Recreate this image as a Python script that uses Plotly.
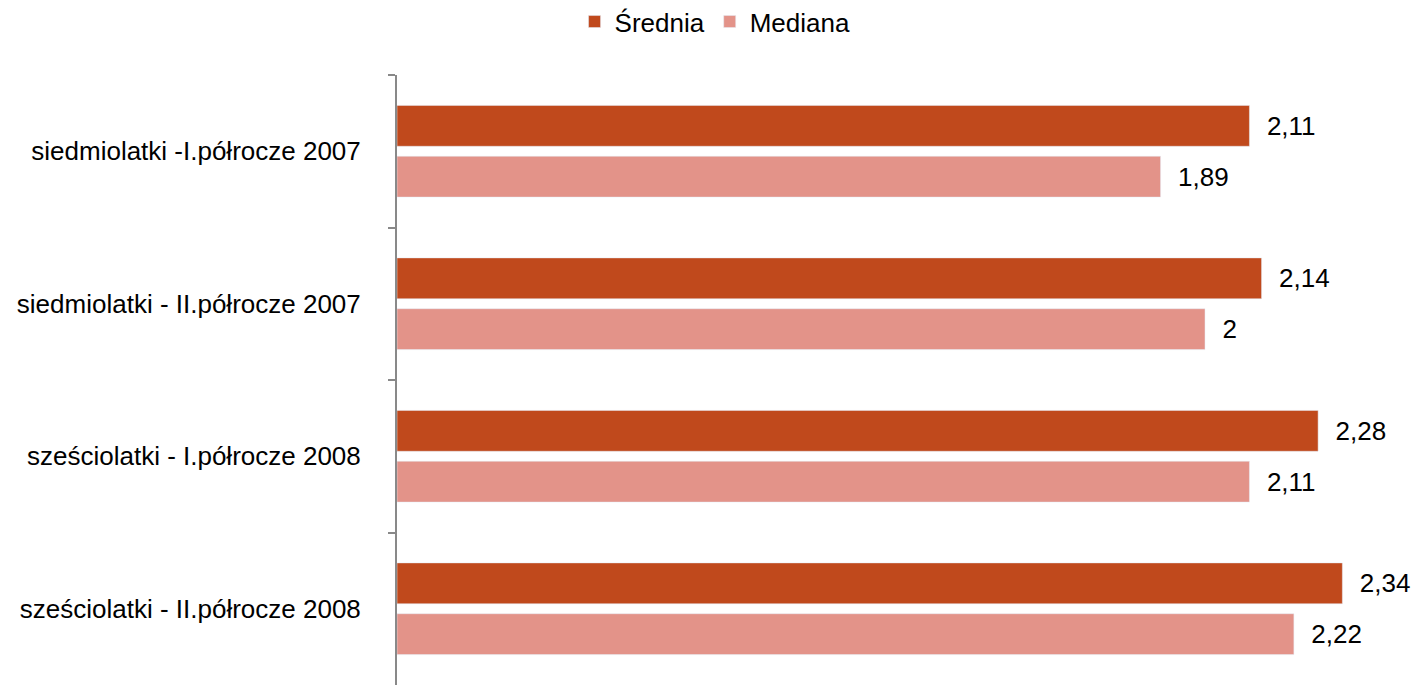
import plotly.graph_objects as go

categories = [
    "siedmiolatki -I.półrocze 2007",
    "siedmiolatki - II.półrocze 2007",
    "sześciolatki - I.półrocze 2008",
    "sześciolatki - II.półrocze 2008",
]
srednia = [2.11, 2.14, 2.28, 2.34]
mediana = [1.89, 2.0, 2.11, 2.22]

def fmt(v):
    return "\u00a0\u00a0" + f"{v:g}".replace(".", ",")

FONT = "Liberation Sans, Arial, sans-serif"
FS = 26

fig = go.Figure()
fig.add_trace(go.Bar(
    name="Średnia", y=categories, x=srednia, orientation="h",
    marker=dict(color="#C0491C"),
    text=[fmt(v) for v in srednia], textposition="outside",
    outsidetextfont=dict(size=FS, color="black", family=FONT),
    constraintext="none", cliponaxis=False,
))
fig.add_trace(go.Bar(
    name="Mediana", y=categories, x=mediana, orientation="h",
    marker=dict(color="#E39389"),
    text=[fmt(v) for v in mediana], textposition="outside",
    outsidetextfont=dict(size=FS, color="black", family=FONT),
    constraintext="none", cliponaxis=False,
))

fig.update_layout(
    width=1413, height=685,
    paper_bgcolor="white", plot_bgcolor="white",
    font=dict(family=FONT, size=FS, color="black"),
    barmode="group", bargap=0.333, bargroupgap=0.196,
    margin=dict(l=397, r=6, t=75, b=0, autoexpand=False),
    showlegend=True,
    legend=dict(orientation="h", xref="paper", yref="paper",
                x=0.3149, xanchor="center", y=1.126, yanchor="top",
                font=dict(size=FS), itemwidth=30, tracegroupgap=0),
)
fig.update_xaxes(range=[0, 2.5], visible=False, showgrid=False, zeroline=False)
fig.update_yaxes(
    range=[3.5, -0.5], showline=True, linecolor="#898989", linewidth=2,
    ticks="outside", tickson="boundaries", ticklen=7, tickcolor="#898989", tickwidth=2,
    showgrid=False, ticklabelstandoff=29,
)

fig.write_html(
    "out.html",
    config={"displayModeBar": False},
    post_script="document.body.style.margin='0';document.body.style.overflow='hidden';",
)
